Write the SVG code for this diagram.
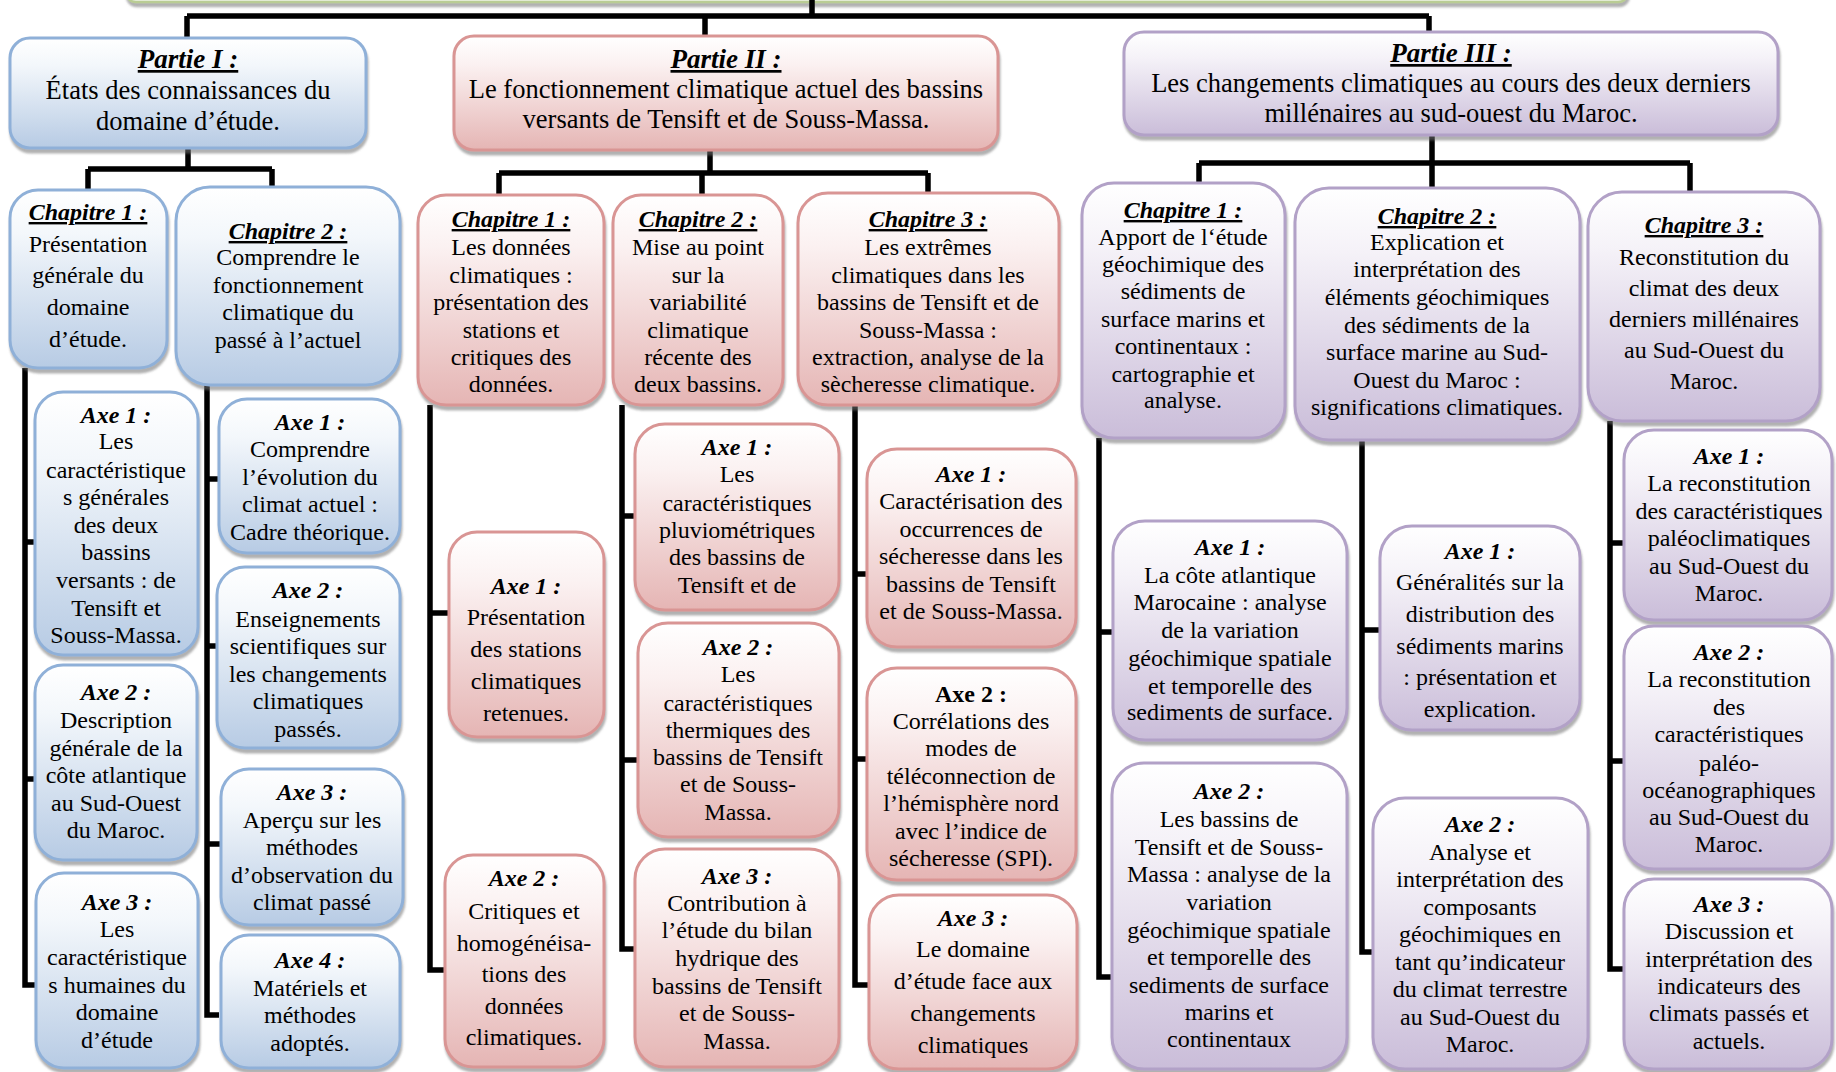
<svg xmlns="http://www.w3.org/2000/svg" width="1836" height="1072" viewBox="0 0 1836 1072">
<defs>
<linearGradient id="gb" x1="0" y1="0" x2="0" y2="1"><stop offset="0" stop-color="#ffffff"/><stop offset="0.25" stop-color="#f3f7fb"/><stop offset="1" stop-color="#b7cbe4"/></linearGradient>
<linearGradient id="gp" x1="0" y1="0" x2="0" y2="1"><stop offset="0" stop-color="#ffffff"/><stop offset="0.25" stop-color="#fbf1f1"/><stop offset="1" stop-color="#e5b5b4"/></linearGradient>
<linearGradient id="gv" x1="0" y1="0" x2="0" y2="1"><stop offset="0" stop-color="#ffffff"/><stop offset="0.25" stop-color="#f5f2f8"/><stop offset="1" stop-color="#cabdd9"/></linearGradient>
<filter id="sh" x="-10%" y="-10%" width="120%" height="125%"><feDropShadow dx="1" dy="4" stdDeviation="1.2" flood-color="#6f6f6f" flood-opacity="0.55"/></filter>
<style>
.b{fill:url(#gb);stroke:#8fb0d8;stroke-width:3;filter:url(#sh)}
.p{fill:url(#gp);stroke:#d99594;stroke-width:3;filter:url(#sh)}
.v{fill:url(#gv);stroke:#b2a1c7;stroke-width:3;filter:url(#sh)}
text{font-family:"Liberation Serif","Times New Roman",serif;font-size:24px;text-anchor:middle;fill:#000}
.tp{font-size:26.5px}
.tp .h{font-size:27px}
.h{font-weight:bold;font-style:italic;text-decoration:underline}
.a{font-weight:bold;font-style:italic}
.ab{font-weight:bold}
.c{fill:none;stroke:#000;stroke-width:5.5;stroke-linejoin:miter;stroke-linecap:butt}
</style>
</defs>
<rect width="1836" height="1072" fill="#ffffff"/>

<g id="top">
<rect x="126" y="-50" width="1502" height="52" rx="10" fill="#f1f5e8" stroke="#b9cc94" stroke-width="2.5" filter="url(#sh)"/>
</g>

<g id="connectors">
<path class="c" d="M812,0 V16 M187,16 H1429 M187,16 V38 M705,16 V36 M1429,16 V32"/>
<path class="c" d="M188,148 V169 M88,169 H272 M88,169 V190 M272,169 V187"/>
<path class="c" d="M25,368 V985 H35 M25,542 H35 M25,779 H35"/>
<path class="c" d="M207,385 V1015 H219 M207,479 H219 M207,646 H219 M207,844 H221"/>
<path class="c" d="M710,150 V173 M499,173 H928 M499,173 V195 M702,173 V195 M928,173 V193"/>
<path class="c" d="M430,405 V970 H445 M430,613 H449"/>
<path class="c" d="M622,405 V949 H635 M622,516 H635 M622,760 H638"/>
<path class="c" d="M855,405 V985 H869 M855,574 H867 M855,759 H867"/>
<path class="c" d="M1432,135 V163 M1199,163 H1690 M1199,163 V183 M1432,163 V188 M1690,163 V192"/>
<path class="c" d="M1099,438 V977 H1112 M1099,632 H1113"/>
<path class="c" d="M1362,440 V952 H1373 M1362,630 H1380"/>
<path class="c" d="M1610,421 V969 H1624 M1610,543 H1624 M1610,761 H1624"/>
</g>

<g id="partie1">
<rect class="b" x="10" y="38" width="356" height="110" rx="20"/>
<text class="tp"><tspan class="h" x="188" y="68">Partie I :</tspan><tspan x="188" y="99">États des connaissances du</tspan><tspan x="188" y="130">domaine d’étude.</tspan></text>
</g>
<g id="p1-ch1">
<rect class="b" x="10" y="190" width="157" height="178" rx="28"/>
<text><tspan class="h" x="88" y="220">Chapitre 1 :</tspan><tspan x="88" y="252">Présentation</tspan><tspan x="88" y="283">générale du</tspan><tspan x="88" y="315">domaine</tspan><tspan x="88" y="347">d’étude.</tspan></text>
</g>
<g id="p1-ch2">
<rect class="b" x="176" y="187" width="224" height="198" rx="34"/>
<text><tspan class="h" x="288" y="239">Chapitre 2 :</tspan><tspan x="288" y="265">Comprendre le</tspan><tspan x="288" y="293">fonctionnement</tspan><tspan x="288" y="320">climatique du</tspan><tspan x="288" y="348">passé à l’actuel</tspan></text>
</g>
<g id="p1-ch1-axe1">
<rect class="b" x="35" y="392" width="163" height="263" rx="28"/>
<text><tspan class="a" x="116" y="423">Axe 1 :</tspan><tspan x="116" y="449">Les</tspan><tspan x="116" y="478">caractéristique</tspan><tspan x="116" y="505">s générales</tspan><tspan x="116" y="533">des deux</tspan><tspan x="116" y="560">bassins</tspan><tspan x="116" y="588">versants : de</tspan><tspan x="116" y="616">Tensift et</tspan><tspan x="116" y="643">Souss-Massa.</tspan></text>
</g>
<g id="p1-ch1-axe2">
<rect class="b" x="35" y="665" width="162" height="195" rx="28"/>
<text><tspan class="a" x="116" y="700">Axe 2 :</tspan><tspan x="116" y="728">Description</tspan><tspan x="116" y="756">générale de la</tspan><tspan x="116" y="783">côte atlantique</tspan><tspan x="116" y="811">au Sud-Ouest</tspan><tspan x="116" y="838">du Maroc.</tspan></text>
</g>
<g id="p1-ch1-axe3">
<rect class="b" x="36" y="873" width="162" height="195" rx="28"/>
<text><tspan class="a" x="117" y="910">Axe 3 :</tspan><tspan x="117" y="937">Les</tspan><tspan x="117" y="965">caractéristique</tspan><tspan x="117" y="993">s humaines du</tspan><tspan x="117" y="1020">domaine</tspan><tspan x="117" y="1048">d’étude</tspan></text>
</g>
<g id="p1-ch2-axe1">
<rect class="b" x="219" y="399" width="181" height="154" rx="28"/>
<text><tspan class="a" x="310" y="430">Axe 1 :</tspan><tspan x="310" y="457">Comprendre</tspan><tspan x="310" y="485">l’évolution du</tspan><tspan x="310" y="512">climat actuel :</tspan><tspan x="310" y="540">Cadre théorique.</tspan></text>
</g>
<g id="p1-ch2-axe2">
<rect class="b" x="217" y="567" width="183" height="181" rx="28"/>
<text><tspan class="a" x="308" y="598">Axe 2 :</tspan><tspan x="308" y="627">Enseignements</tspan><tspan x="308" y="654">scientifiques sur</tspan><tspan x="308" y="682">les changements</tspan><tspan x="308" y="709">climatiques</tspan><tspan x="308" y="737">passés.</tspan></text>
</g>
<g id="p1-ch2-axe3">
<rect class="b" x="221" y="769" width="182" height="156" rx="28"/>
<text><tspan class="a" x="312" y="800">Axe 3 :</tspan><tspan x="312" y="828">Aperçu sur les</tspan><tspan x="312" y="855">méthodes</tspan><tspan x="312" y="883">d’observation du</tspan><tspan x="312" y="910">climat passé</tspan></text>
</g>
<g id="p1-ch2-axe4">
<rect class="b" x="221" y="935" width="179" height="133" rx="28"/>
<text><tspan class="a" x="310" y="968">Axe 4 :</tspan><tspan x="310" y="996">Matériels et</tspan><tspan x="310" y="1023">méthodes</tspan><tspan x="310" y="1051">adoptés.</tspan></text>
</g>

<g id="partie2">
<rect class="p" x="454" y="36" width="544" height="114" rx="20"/>
<text class="tp"><tspan class="h" x="726" y="68">Partie II :</tspan><tspan x="726" y="98">Le fonctionnement climatique actuel des bassins</tspan><tspan x="726" y="128">versants de Tensift et de Souss-Massa.</tspan></text>
</g>
<g id="p2-ch1">
<rect class="p" x="418" y="195" width="186" height="210" rx="28"/>
<text><tspan class="h" x="511" y="227">Chapitre 1 :</tspan><tspan x="511" y="255">Les données</tspan><tspan x="511" y="283">climatiques :</tspan><tspan x="511" y="310">présentation des</tspan><tspan x="511" y="338">stations et</tspan><tspan x="511" y="365">critiques des</tspan><tspan x="511" y="392">données.</tspan></text>
</g>
<g id="p2-ch2">
<rect class="p" x="613" y="195" width="170" height="210" rx="28"/>
<text><tspan class="h" x="698" y="227">Chapitre 2 :</tspan><tspan x="698" y="255">Mise au point</tspan><tspan x="698" y="283">sur la</tspan><tspan x="698" y="310">variabilité</tspan><tspan x="698" y="338">climatique</tspan><tspan x="698" y="365">récente des</tspan><tspan x="698" y="392">deux bassins.</tspan></text>
</g>
<g id="p2-ch3">
<rect class="p" x="798" y="193" width="261" height="212" rx="30"/>
<text><tspan class="h" x="928" y="227">Chapitre 3 :</tspan><tspan x="928" y="255">Les extrêmes</tspan><tspan x="928" y="283">climatiques dans les</tspan><tspan x="928" y="310">bassins de Tensift et de</tspan><tspan x="928" y="338">Souss-Massa :</tspan><tspan x="928" y="365">extraction, analyse de la</tspan><tspan x="928" y="392">sècheresse climatique.</tspan></text>
</g>
<g id="p2-ch1-axe1">
<rect class="p" x="449" y="532" width="155" height="205" rx="28"/>
<text><tspan class="a" x="526" y="594">Axe 1 :</tspan><tspan x="526" y="625">Présentation</tspan><tspan x="526" y="657">des stations</tspan><tspan x="526" y="689">climatiques</tspan><tspan x="526" y="721">retenues.</tspan></text>
</g>
<g id="p2-ch1-axe2">
<rect class="p" x="445" y="855" width="159" height="212" rx="28"/>
<text><tspan class="a" x="524" y="886">Axe 2 :</tspan><tspan x="524" y="919">Critiques et</tspan><tspan x="524" y="951">homogénéisa-</tspan><tspan x="524" y="982">tions des</tspan><tspan x="524" y="1014">données</tspan><tspan x="524" y="1045">climatiques.</tspan></text>
</g>
<g id="p2-ch2-axe1">
<rect class="p" x="635" y="424" width="204" height="186" rx="30"/>
<text><tspan class="a" x="737" y="455">Axe 1 :</tspan><tspan x="737" y="482">Les</tspan><tspan x="737" y="511">caractéristiques</tspan><tspan x="737" y="538">pluviométriques</tspan><tspan x="737" y="565">des bassins de</tspan><tspan x="737" y="593">Tensift et de</tspan></text>
</g>
<g id="p2-ch2-axe2">
<rect class="p" x="638" y="623" width="201" height="214" rx="30"/>
<text><tspan class="a" x="738" y="655">Axe 2 :</tspan><tspan x="738" y="682">Les</tspan><tspan x="738" y="711">caractéristiques</tspan><tspan x="738" y="738">thermiques des</tspan><tspan x="738" y="765">bassins de Tensift</tspan><tspan x="738" y="792">et de Souss-</tspan><tspan x="738" y="820">Massa.</tspan></text>
</g>
<g id="p2-ch2-axe3">
<rect class="p" x="635" y="849" width="204" height="218" rx="30"/>
<text><tspan class="a" x="737" y="884">Axe 3 :</tspan><tspan x="737" y="911">Contribution à</tspan><tspan x="737" y="938">l’étude du bilan</tspan><tspan x="737" y="966">hydrique des</tspan><tspan x="737" y="994">bassins de Tensift</tspan><tspan x="737" y="1021">et de Souss-</tspan><tspan x="737" y="1049">Massa.</tspan></text>
</g>
<g id="p2-ch3-axe1">
<rect class="p" x="867" y="449" width="209" height="198" rx="30"/>
<text><tspan class="a" x="971" y="482">Axe 1 :</tspan><tspan x="971" y="509">Caractérisation des</tspan><tspan x="971" y="537">occurrences de</tspan><tspan x="971" y="564">sécheresse dans les</tspan><tspan x="971" y="592">bassins de Tensift</tspan><tspan x="971" y="619">et de Souss-Massa.</tspan></text>
</g>
<g id="p2-ch3-axe2">
<rect class="p" x="867" y="668" width="209" height="212" rx="30"/>
<text><tspan class="ab" x="971" y="702">Axe 2 :</tspan><tspan x="971" y="729">Corrélations des</tspan><tspan x="971" y="756">modes de</tspan><tspan x="971" y="784">téléconnection de</tspan><tspan x="971" y="811">l’hémisphère nord</tspan><tspan x="971" y="839">avec l’indice de</tspan><tspan x="971" y="866">sécheresse (SPI).</tspan></text>
</g>
<g id="p2-ch3-axe3">
<rect class="p" x="869" y="895" width="208" height="174" rx="30"/>
<text><tspan class="a" x="973" y="926">Axe 3 :</tspan><tspan x="973" y="957">Le domaine</tspan><tspan x="973" y="989">d’étude face aux</tspan><tspan x="973" y="1021">changements</tspan><tspan x="973" y="1053">climatiques</tspan></text>
</g>

<g id="partie3">
<rect class="v" x="1124" y="32" width="654" height="103" rx="20"/>
<text class="tp"><tspan class="h" x="1451" y="62">Partie III :</tspan><tspan x="1451" y="92">Les changements climatiques au cours des deux derniers</tspan><tspan x="1451" y="122">millénaires au sud-ouest du Maroc.</tspan></text>
</g>
<g id="p3-ch1">
<rect class="v" x="1082" y="183" width="203" height="255" rx="32"/>
<text><tspan class="h" x="1183" y="218">Chapitre 1 :</tspan><tspan x="1183" y="245">Apport de l‘étude</tspan><tspan x="1183" y="272">géochimique des</tspan><tspan x="1183" y="299">sédiments de</tspan><tspan x="1183" y="327">surface marins et</tspan><tspan x="1183" y="354">continentaux :</tspan><tspan x="1183" y="382">cartographie et</tspan><tspan x="1183" y="408">analyse.</tspan></text>
</g>
<g id="p3-ch2">
<rect class="v" x="1295" y="188" width="285" height="252" rx="34"/>
<text><tspan class="h" x="1437" y="224">Chapitre 2 :</tspan><tspan x="1437" y="250">Explication et</tspan><tspan x="1437" y="277">interprétation des</tspan><tspan x="1437" y="305">éléments géochimiques</tspan><tspan x="1437" y="333">des sédiments de la</tspan><tspan x="1437" y="360">surface marine au Sud-</tspan><tspan x="1437" y="388">Ouest du Maroc :</tspan><tspan x="1437" y="415">significations climatiques.</tspan></text>
</g>
<g id="p3-ch3">
<rect class="v" x="1588" y="192" width="232" height="229" rx="34"/>
<text><tspan class="h" x="1704" y="233">Chapitre 3 :</tspan><tspan x="1704" y="265">Reconstitution du</tspan><tspan x="1704" y="296">climat des deux</tspan><tspan x="1704" y="327">derniers millénaires</tspan><tspan x="1704" y="358">au Sud-Ouest du</tspan><tspan x="1704" y="389">Maroc.</tspan></text>
</g>
<g id="p3-ch1-axe1">
<rect class="v" x="1113" y="521" width="234" height="219" rx="32"/>
<text><tspan class="a" x="1230" y="555">Axe 1 :</tspan><tspan x="1230" y="583">La côte atlantique</tspan><tspan x="1230" y="610">Marocaine : analyse</tspan><tspan x="1230" y="638">de la variation</tspan><tspan x="1230" y="666">géochimique spatiale</tspan><tspan x="1230" y="694">et temporelle des</tspan><tspan x="1230" y="720">sediments de surface.</tspan></text>
</g>
<g id="p3-ch1-axe2">
<rect class="v" x="1112" y="763" width="235" height="306" rx="32"/>
<text><tspan class="a" x="1229" y="799">Axe 2 :</tspan><tspan x="1229" y="827">Les bassins de</tspan><tspan x="1229" y="855">Tensift et de Souss-</tspan><tspan x="1229" y="882">Massa : analyse de la</tspan><tspan x="1229" y="910">variation</tspan><tspan x="1229" y="938">géochimique spatiale</tspan><tspan x="1229" y="965">et temporelle des</tspan><tspan x="1229" y="993">sediments de surface</tspan><tspan x="1229" y="1020">marins et</tspan><tspan x="1229" y="1047">continentaux</tspan></text>
</g>
<g id="p3-ch2-axe1">
<rect class="v" x="1380" y="526" width="200" height="204" rx="32"/>
<text><tspan class="a" x="1480" y="559">Axe 1 :</tspan><tspan x="1480" y="590">Généralités sur la</tspan><tspan x="1480" y="622">distribution des</tspan><tspan x="1480" y="654">sédiments marins</tspan><tspan x="1480" y="685">: présentation et</tspan><tspan x="1480" y="717">explication.</tspan></text>
</g>
<g id="p3-ch2-axe2">
<rect class="v" x="1373" y="798" width="215" height="271" rx="32"/>
<text><tspan class="a" x="1480" y="832">Axe 2 :</tspan><tspan x="1480" y="860">Analyse et</tspan><tspan x="1480" y="887">interprétation des</tspan><tspan x="1480" y="915">composants</tspan><tspan x="1480" y="942">géochimiques en</tspan><tspan x="1480" y="970">tant qu’indicateur</tspan><tspan x="1480" y="997">du climat terrestre</tspan><tspan x="1480" y="1025">au Sud-Ouest du</tspan><tspan x="1480" y="1052">Maroc.</tspan></text>
</g>
<g id="p3-ch3-axe1">
<rect class="v" x="1624" y="430" width="208" height="190" rx="30"/>
<text><tspan class="a" x="1729" y="464">Axe 1 :</tspan><tspan x="1729" y="491">La reconstitution</tspan><tspan x="1729" y="519">des caractéristiques</tspan><tspan x="1729" y="546">paléoclimatiques</tspan><tspan x="1729" y="574">au Sud-Ouest du</tspan><tspan x="1729" y="601">Maroc.</tspan></text>
</g>
<g id="p3-ch3-axe2">
<rect class="v" x="1624" y="626" width="208" height="243" rx="30"/>
<text><tspan class="a" x="1729" y="660">Axe 2 :</tspan><tspan x="1729" y="687">La reconstitution</tspan><tspan x="1729" y="715">des</tspan><tspan x="1729" y="742">caractéristiques</tspan><tspan x="1729" y="771">paléo-</tspan><tspan x="1729" y="798">océanographiques</tspan><tspan x="1729" y="825">au Sud-Ouest du</tspan><tspan x="1729" y="852">Maroc.</tspan></text>
</g>
<g id="p3-ch3-axe3">
<rect class="v" x="1624" y="879" width="208" height="190" rx="30"/>
<text><tspan class="a" x="1729" y="912">Axe 3 :</tspan><tspan x="1729" y="939">Discussion et</tspan><tspan x="1729" y="967">interprétation des</tspan><tspan x="1729" y="994">indicateurs des</tspan><tspan x="1729" y="1021">climats passés et</tspan><tspan x="1729" y="1049">actuels.</tspan></text>
</g>
</svg>
